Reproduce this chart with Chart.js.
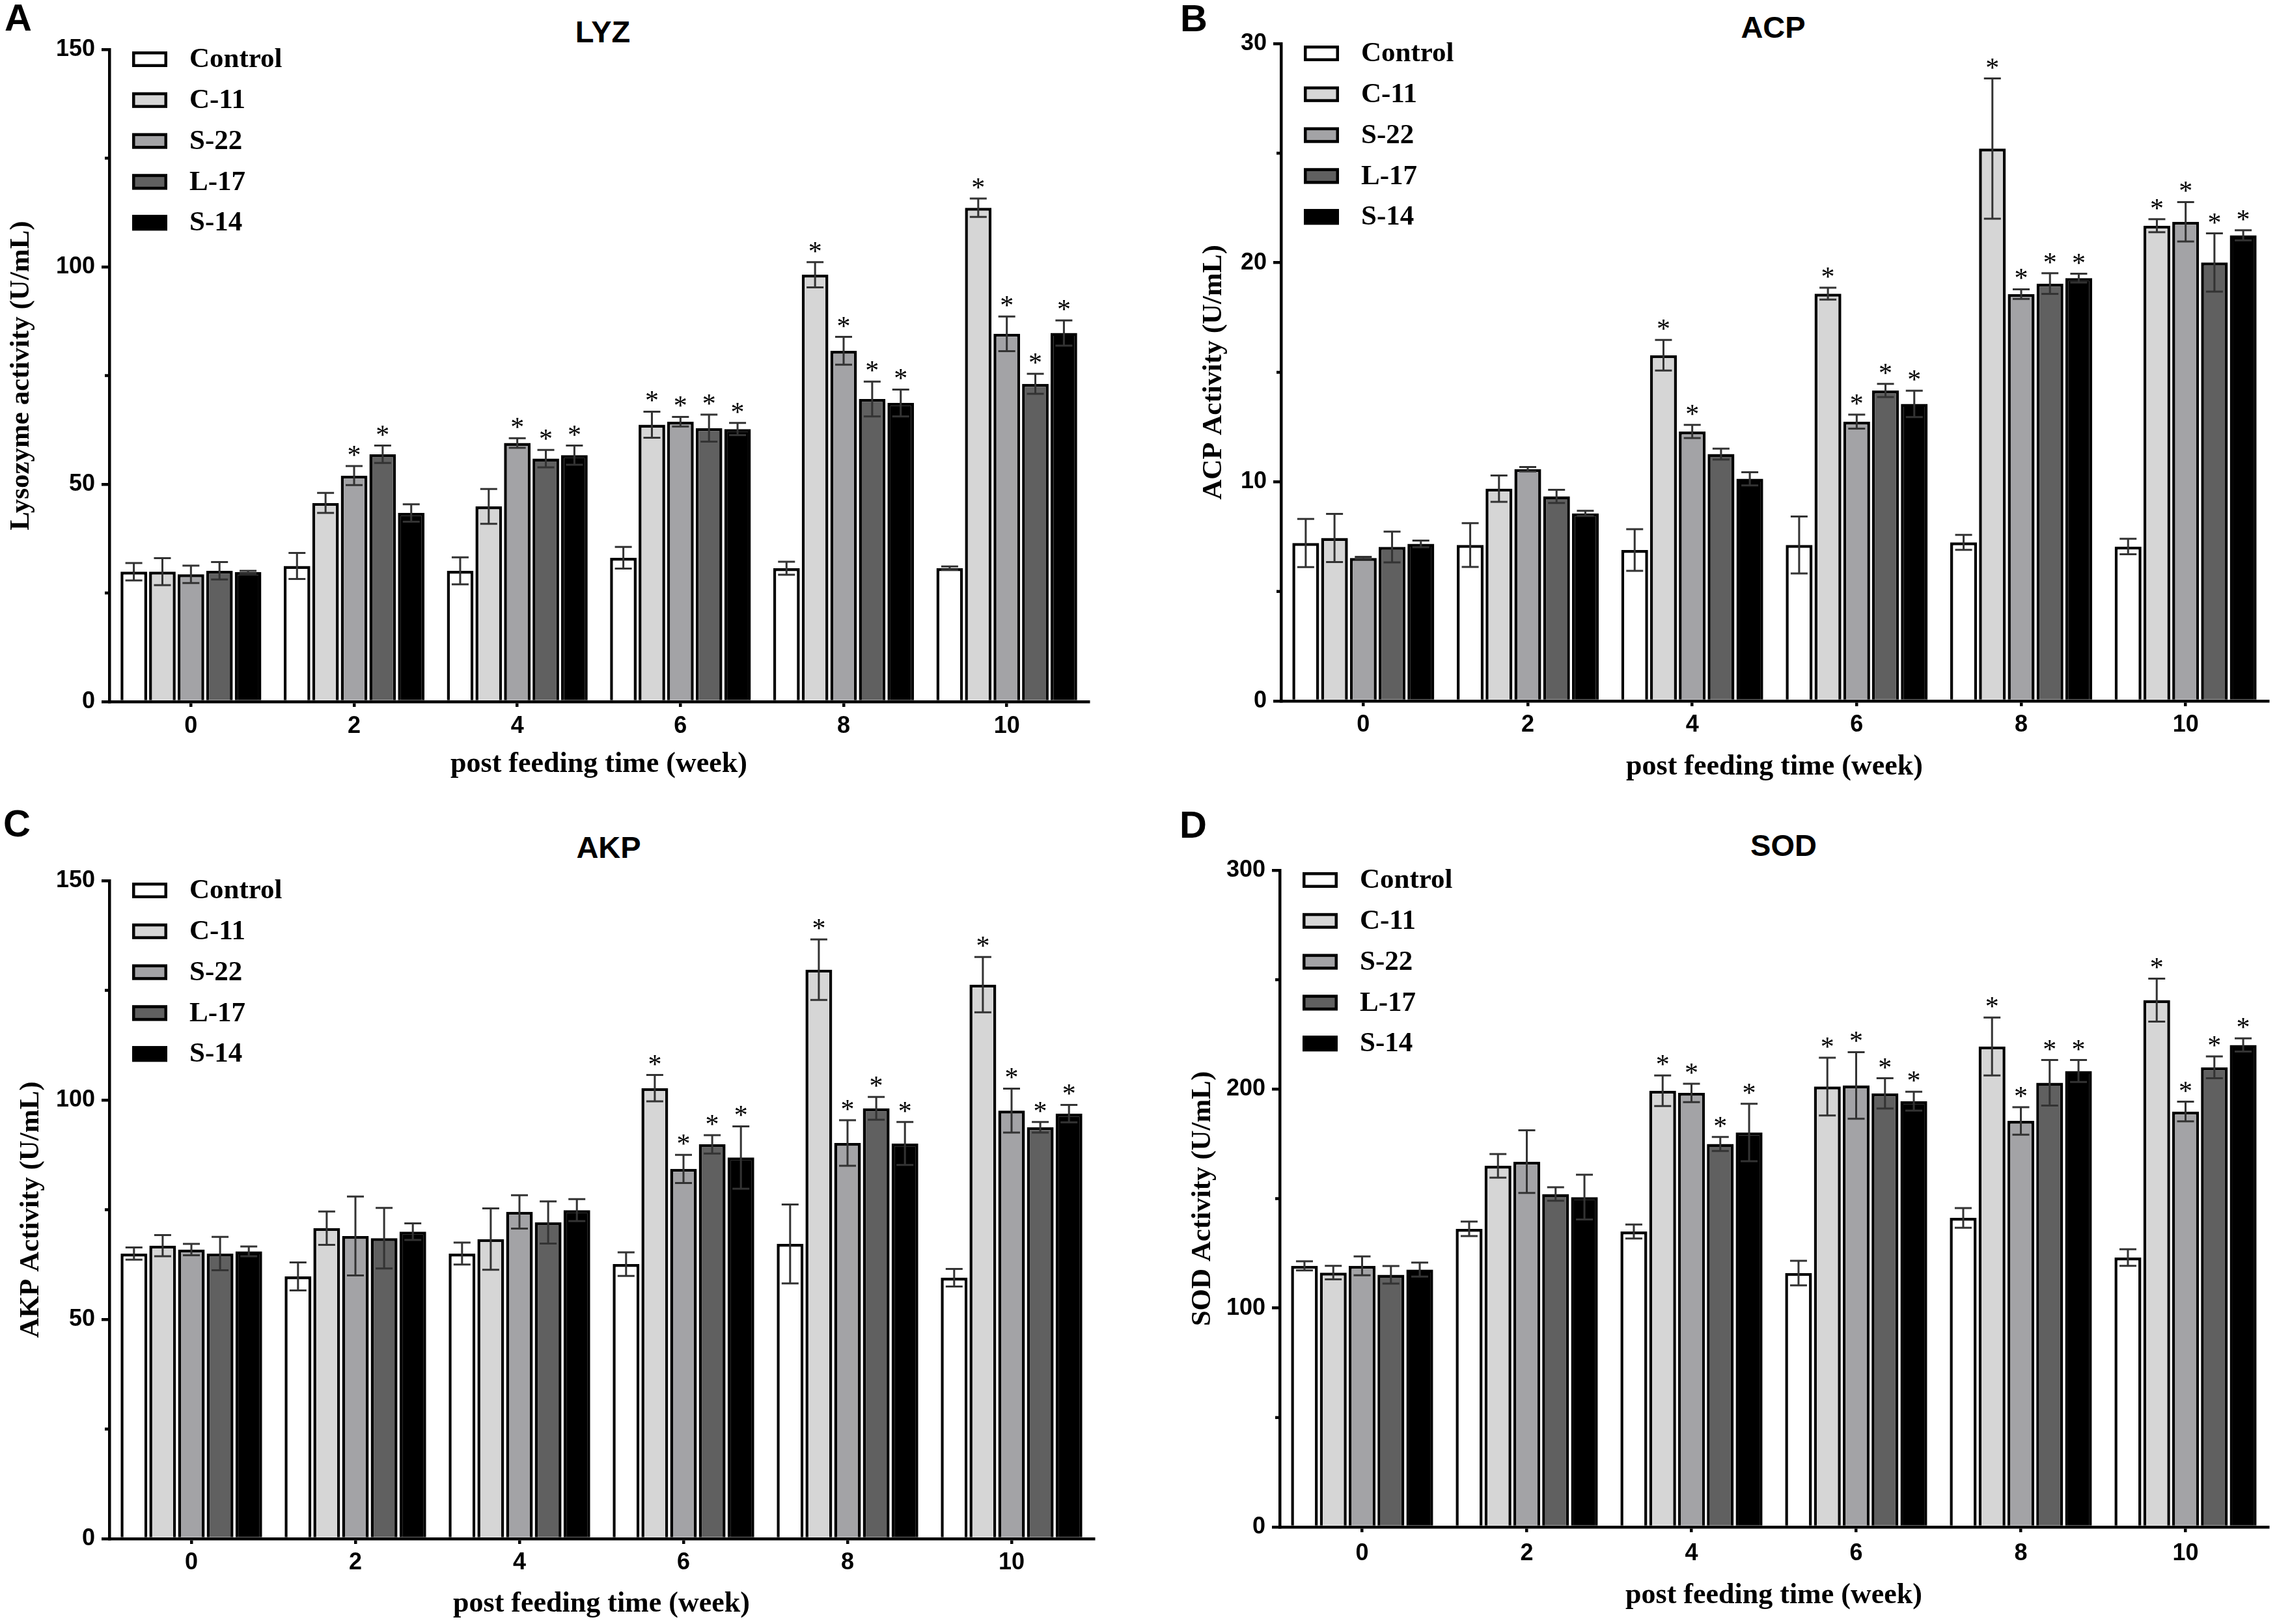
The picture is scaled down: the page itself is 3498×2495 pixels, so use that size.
<!DOCTYPE html>
<html lang="en">
<head>
<meta charset="UTF-8">
<title>LYZ / ACP / AKP / SOD activity</title>
<script src="https://cdn.jsdelivr.net/npm/chart.js@4.4.1/dist/chart.umd.min.js"></script>
<style>
    body {
        margin: 0;
        background: #fff;
        width: 3498px;
        height: 2495px;
        overflow: hidden;
        position: relative;
    }
    canvas {
        position: absolute;
    }
    .letter {
        position: absolute;
        font-family: "Liberation Sans", Arial, sans-serif;
        font-weight: bold;
        font-size: 58px;
        line-height: 1;
        color: #000;
    }
    .title {
        position: absolute;
        font-family: "Liberation Sans", Arial, sans-serif;
        font-weight: bold;
        font-size: 47px;
        line-height: 1;
        color: #000;
        transform: translateX(-50%);
        white-space: nowrap;
    }
</style>
</head>
<body>
    <div class="letter" style="left:7px; top:-2px;">A</div>
    <div class="letter" style="left:1813px; top:-1px;">B</div>
    <div class="letter" style="left:5px; top:1236px;">C</div>
    <div class="letter" style="left:1812px; top:1238px;">D</div>

    <div class="title" style="left:926px; top:25px;">LYZ</div>
    <div class="title" style="left:2724px; top:18px;">ACP</div>
    <div class="title" style="left:935px; top:1278px;">AKP</div>
    <div class="title" style="left:2740px; top:1275px;">SOD</div>

    <canvas id="lyzChart" width="1720" height="1215" style="left:0px; top:0px;"></canvas>
    <canvas id="acpChart" width="1708" height="1215" style="left:1790px; top:0px;"></canvas>
    <canvas id="akpChart" width="1720" height="1255" style="left:0px; top:1240px;"></canvas>
    <canvas id="sodChart" width="1708" height="1255" style="left:1790px; top:1240px;"></canvas>

<script>
// categories and groups
const weeks = ['0', '2', '4', '6', '8', '10'];
const groups = ['Control', 'C-11', 'S-22', 'L-17', 'S-14'];
const groupColors = ['#ffffff', '#d6d6d6', '#a3a3a6', '#606060', '#000000'];

// LYZ (U/mL): one row per group, one value per week
const lyzMean = [
    [29.9, 31.2, 30.1, 33.1, 30.7, 30.7],
    [29.9, 45.7, 44.9, 63.7, 98.2, 113.6],
    [29.3, 52.0, 59.5, 64.4, 80.7, 84.6],
    [30.1, 56.9, 55.9, 62.9, 69.6, 73.1],
    [29.8, 43.4, 56.7, 62.7, 68.7, 84.8]
];
const lyzSd = [
    [2.0, 3.0, 3.1, 2.5, 1.5, 0.4],
    [3.1, 2.3, 4.0, 3.0, 2.9, 2.1],
    [2.0, 2.2, 1.1, 1.1, 3.2, 4.0],
    [2.0, 2.0, 2.0, 3.1, 4.0, 2.3],
    [0.3, 2.0, 2.2, 1.4, 3.1, 2.9]
];
const lyzSig = [
    [0, 0, 0, 0, 0, 0],
    [0, 0, 0, 1, 1, 1],
    [0, 1, 1, 1, 1, 1],
    [0, 1, 1, 1, 1, 1],
    [0, 0, 1, 1, 1, 1]
];

// ACP (U/mL)
const acpMean = [
    [7.21, 7.12, 6.89, 7.12, 7.24, 7.05],
    [7.44, 9.69, 15.78, 18.59, 25.21, 21.69],
    [6.53, 10.58, 12.30, 12.75, 18.57, 21.87],
    [7.03, 9.34, 11.27, 14.17, 19.05, 20.01],
    [7.17, 8.56, 10.14, 13.56, 19.30, 21.25]
];
const acpSd = [
    [1.10, 1.00, 0.95, 1.30, 0.34, 0.35],
    [1.10, 0.60, 0.70, 0.27, 3.20, 0.30],
    [0.05, 0.10, 0.30, 0.32, 0.22, 0.90],
    [0.70, 0.30, 0.25, 0.30, 0.47, 1.33],
    [0.15, 0.12, 0.30, 0.60, 0.20, 0.23]
];
const acpSig = [
    [0, 0, 0, 0, 0, 0],
    [0, 0, 1, 1, 1, 1],
    [0, 0, 1, 1, 1, 1],
    [0, 0, 0, 1, 1, 1],
    [0, 0, 0, 1, 1, 1]
];

// AKP (U/mL)
const akpMean = [
    [65.0, 59.8, 65.0, 62.6, 67.2, 59.5],
    [66.8, 70.8, 68.3, 102.7, 129.7, 126.3],
    [65.9, 69.0, 74.5, 84.3, 90.2, 97.6],
    [65.0, 68.5, 72.1, 89.9, 98.1, 93.8],
    [65.5, 70.0, 74.9, 86.9, 90.1, 96.9]
];
const akpSd = [
    [1.4, 3.2, 2.5, 2.7, 9.0, 2.0],
    [2.4, 3.8, 7.0, 3.0, 6.9, 6.3],
    [1.3, 9.0, 3.8, 3.2, 5.2, 5.0],
    [3.8, 6.9, 4.8, 2.1, 2.6, 1.2],
    [1.1, 1.9, 2.5, 7.1, 4.9, 2.0]
];
const akpSig = [
    [0, 0, 0, 0, 0, 0],
    [0, 0, 0, 1, 1, 1],
    [0, 0, 0, 1, 1, 1],
    [0, 0, 0, 1, 1, 1],
    [0, 0, 0, 1, 1, 1]
];

// SOD (U/mL)
const sodMean = [
    [119.3, 136.2, 135.0, 116.0, 141.2, 123.1],
    [116.2, 165.0, 199.3, 201.2, 219.5, 240.7],
    [119.3, 166.9, 198.3, 201.7, 185.5, 189.8],
    [115.2, 152.1, 175.0, 198.1, 202.9, 210.0],
    [117.6, 150.7, 180.2, 194.5, 208.3, 220.2]
];
const sodSd = [
    [2.1, 3.3, 3.2, 5.6, 4.5, 3.8],
    [3.1, 5.4, 7.0, 13.2, 13.2, 9.8],
    [4.3, 14.3, 4.2, 15.2, 6.3, 4.5],
    [4.0, 3.1, 3.2, 6.9, 10.4, 5.0],
    [3.2, 10.2, 13.1, 4.3, 5.0, 3.0]
];
const sodSig = [
    [0, 0, 0, 0, 0, 0],
    [0, 0, 1, 1, 1, 1],
    [0, 0, 1, 1, 1, 1],
    [0, 0, 1, 1, 1, 1],
    [0, 0, 1, 1, 1, 1]
];

Chart.defaults.color = '#000';
Chart.defaults.font.family = '"Liberation Sans", Arial, sans-serif';

const SERIF = '"Liberation Serif", "Times New Roman", serif';

// error bars, significance stars, minor ticks and the in-plot legend
const decorPlugin = {
    id: 'decor',
    afterDatasetsDraw(chart) {
        const ctx = chart.ctx;
        const y = chart.scales.y;
        ctx.save();
        chart.data.datasets.forEach((ds, i) => {
            const meta = chart.getDatasetMeta(i);
            meta.data.forEach((bar, j) => {
                const hi = y.getPixelForValue(ds.data[j] + ds.errors[j]);
                const lo = y.getPixelForValue(ds.data[j] - ds.errors[j]);
                ctx.strokeStyle = '#333';
                ctx.lineWidth = 3;
                ctx.beginPath();
                ctx.moveTo(bar.x, lo);
                ctx.lineTo(bar.x, hi);
                ctx.moveTo(bar.x - 13, hi);
                ctx.lineTo(bar.x + 13, hi);
                ctx.moveTo(bar.x - 13, lo);
                ctx.lineTo(bar.x + 13, lo);
                ctx.stroke();
                if (ds.sig[j]) {
                    ctx.fillStyle = '#000';
                    ctx.font = '42px ' + SERIF;
                    ctx.textAlign = 'center';
                    ctx.textBaseline = 'alphabetic';
                    ctx.fillText('*', bar.x, hi - 3);
                }
            });
        });
        ctx.restore();
    },
    afterDraw(chart, args, opts) {
        const ctx = chart.ctx;
        const area = chart.chartArea;
        const y = chart.scales.y;
        ctx.save();

        // short minor ticks
        ctx.strokeStyle = '#000';
        ctx.lineWidth = 4.5;
        y.ticks.forEach(t => {
            if (t.value % opts.major !== 0) {
                const py = y.getPixelForValue(t.value);
                ctx.beginPath();
                ctx.moveTo(area.left - 7, py);
                ctx.lineTo(area.left, py);
                ctx.stroke();
            }
        });

        // legend inside the plot, top left
        chart.data.datasets.forEach((ds, i) => {
            const cy = area.top + 15 + i * 62.8;
            const bx = area.left + 35;
            ctx.fillStyle = ds.backgroundColor;
            ctx.fillRect(bx, cy - 12, 54, 24);
            ctx.strokeStyle = '#000';
            ctx.lineWidth = 4.5;
            ctx.strokeRect(bx + 2.25, cy - 9.75, 49.5, 19.5);
            ctx.fillStyle = '#000';
            ctx.font = 'bold 43px ' + SERIF;
            ctx.textAlign = 'left';
            ctx.textBaseline = 'middle';
            ctx.fillText(ds.label, bx + 88, cy + 1);
        });
        ctx.restore();
    }
};

function makePanel(id, means, sds, sigs, p) {
    const datasets = groups.map((g, i) => ({
        label: g,
        data: means[i],
        errors: sds[i],
        sig: sigs[i],
        backgroundColor: groupColors[i],
        borderColor: '#000',
        borderWidth: 4.5,
        categoryPercentage: 0.875,
        barPercentage: 0.93
    }));

    return new Chart(document.getElementById(id), {
        type: 'bar',
        data: { labels: weeks, datasets: datasets },
        plugins: [decorPlugin],
        options: {
            responsive: false,
            animation: false,
            devicePixelRatio: 1,
            layout: { padding: { left: 0, top: p.padTop, right: p.padRight, bottom: 0 } },
            plugins: {
                legend: { display: false },
                tooltip: { enabled: false },
                decor: { major: p.major }
            },
            scales: {
                x: {
                    offset: true,
                    grid: {
                        offset: false,
                        drawOnChartArea: false,
                        drawTicks: true,
                        tickLength: 8,
                        tickWidth: 4.5,
                        lineWidth: 4.5,
                        color: '#000'
                    },
                    border: { display: true, width: 4.5, color: '#000' },
                    ticks: {
                        font: { size: 36, weight: 'bold' },
                        padding: p.xTickPad,
                        maxRotation: 0
                    },
                    title: {
                        display: true,
                        text: 'post feeding time (week)',
                        font: { family: SERIF, size: 44, weight: 'bold' },
                        padding: { top: 0, bottom: p.xTitlePad }
                    },
                    afterFit(scale) { scale.height = p.xHeight; }
                },
                y: {
                    min: 0,
                    max: p.yMax,
                    grid: {
                        drawOnChartArea: false,
                        drawTicks: true,
                        tickLength: 12,
                        tickWidth: 4.5,
                        lineWidth: 4.5,
                        tickColor: ctx => (ctx.tick && ctx.tick.value % p.major === 0) ? '#000' : 'rgba(0,0,0,0)'
                    },
                    border: { display: true, width: 4.5, color: '#000' },
                    ticks: {
                        stepSize: p.step,
                        font: { size: 36, weight: 'bold' },
                        padding: 10,
                        callback: v => (v % p.major === 0 ? v : '')
                    },
                    title: {
                        display: true,
                        text: p.yTitle,
                        font: { family: SERIF, size: 43, weight: 'bold' },
                        padding: { top: p.yTitlePad, bottom: 0 }
                    },
                    afterFit(scale) { scale.width = p.yWidth; }
                }
            }
        }
    });
}

makePanel('lyzChart', lyzMean, lyzSd, lyzSig, {
    yMax: 150, step: 25, major: 50, yTitle: 'Lysozyme activity (U/mL)',
    padTop: 76, padRight: 48, yWidth: 168, xHeight: 137,
    yTitlePad: 7, xTitlePad: 14, xTickPad: 8
});

makePanel('acpChart', acpMean, acpSd, acpSig, {
    yMax: 30, step: 5, major: 10, yTitle: 'ACP Activity (U/mL)',
    padTop: 67, padRight: 14, yWidth: 178, xHeight: 138,
    yTitlePad: 49, xTitlePad: 10, xTickPad: 7
});

makePanel('akpChart', akpMean, akpSd, akpSig, {
    yMax: 150, step: 25, major: 50, yTitle: 'AKP Activity (U/mL)',
    padTop: 113, padRight: 40, yWidth: 168, xHeight: 131,
    yTitlePad: 22, xTitlePad: 4, xTickPad: 7
});

makePanel('sodChart', sodMean, sodSd, sodSig, {
    yMax: 300, step: 50, major: 100, yTitle: 'SOD Activity (U/mL)',
    padTop: 97, padRight: 14, yWidth: 176, xHeight: 149,
    yTitlePad: 32, xTitlePad: 17, xTickPad: 11
});
</script>
</body>
</html>
